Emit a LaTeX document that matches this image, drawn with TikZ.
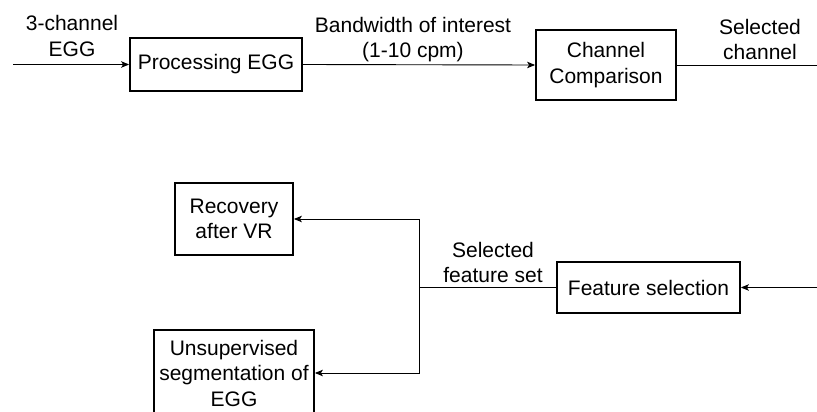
\documentclass[tikz,border=0pt]{standalone}
\usepackage{fontspec}
\setmainfont{Liberation Sans}
\usetikzlibrary{arrows.meta}
\begin{document}
\begin{tikzpicture}[x=1pt,y=1pt,
  txt/.style={font=\fontsize{21}{25.5}\selectfont, align=center, inner sep=0pt},
  blockbox/.style={txt, draw, line width=1.8pt, rectangle},
  link/.style={line width=0.9pt},
  arrowlink/.style={link, -{Stealth[length=8pt,width=6.5pt,inset=2pt]}}]
  \useasboundingbox (0,0) rectangle (817,-412);
  \clip (0,0) rectangle (817,-412);

  % top chain
  \node[blockbox, minimum width=172, minimum height=53] (proc) at (216,-64.5) {Processing EGG};
  \node[blockbox, minimum width=140, minimum height=70] (comp) at (606,-65) {Channel\\Comparison};
  \coordinate (in0) at (13,-64.5);
  \coordinate (out0) at (817,-65);
  \node[txt] (lblin) at (72,-36) {3-channel\\EGG};
  \node[txt] (lblbw) at (413,-39.5) {Bandwidth of interest\\(1-10 cpm)};
  \node[txt] (lblsel) at (760,-39.5) {Selected\\channel};

  \draw[arrowlink] (in0) -- (proc.west);
  \draw[arrowlink] (proc.east) -- (comp.west);
  \draw[link] (comp.east) -- (out0);

  % bottom chain
  \node[blockbox, minimum width=183, minimum height=51] (feat) at (648.5,-287.5) {Feature selection};
  \node[blockbox, minimum width=118, minimum height=72] (rec) at (234,-219) {Recovery\\after VR};
  \node[blockbox, minimum width=160, minimum height=86] (uns) at (234,-373) {Unsupervised\\segmentation of\\EGG};
  \coordinate (in1) at (817,-287.5);
  \coordinate (jn) at (419,-287.5);
  \node[txt] (lblfs) at (493,-262.5) {Selected\\feature set};

  \draw[arrowlink] (in1) -- (feat.east);
  \draw[link] (feat.west) -- (jn);
  \draw[arrowlink] (jn) |- (rec.east);
  \draw[arrowlink] (jn) |- (uns.east);
\end{tikzpicture}
\end{document}
